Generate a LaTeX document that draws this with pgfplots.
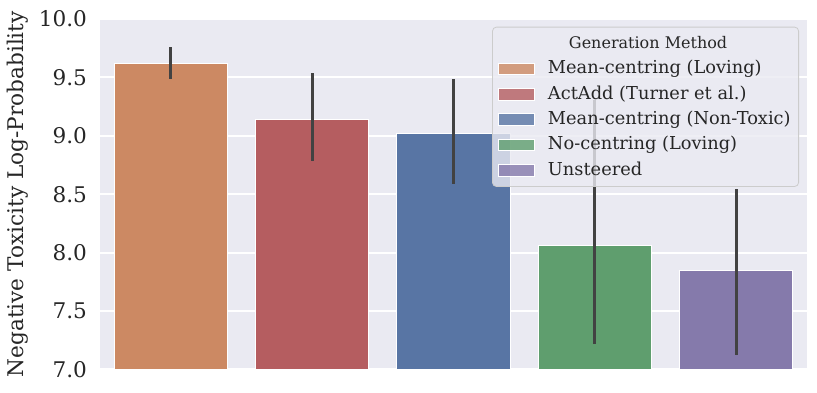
\documentclass[border=0pt]{standalone}
\usepackage{fontspec}
\setmainfont{DejaVu Serif}
\usepackage{pgfplots}
\pgfplotsset{compat=1.18}
\usetikzlibrary{calc}
\definecolor{seabg}{HTML}{EAEAF2}
\definecolor{txt}{HTML}{262626}
\definecolor{errc}{HTML}{424242}
\definecolor{legframe}{HTML}{CCCCCC}
\definecolor{cOrange}{HTML}{CC8963}
\definecolor{cRed}{HTML}{B55D60}
\definecolor{cBlue}{HTML}{5875A4}
\definecolor{cGreen}{HTML}{5F9E6E}
\definecolor{cPurple}{HTML}{857AAB}

\pgfplotsset{
  sbar/.style={ybar, fill=#1, draw=white, line width=0.5pt, bar width=0.8, bar shift=0pt,
    error bars/.cd, y dir=both, y explicit, error mark=none,
    error bar style={color=errc, line width=1.5pt}},
}

\begin{document}
\begin{tikzpicture}
\begin{axis}[
  name=ax,
  scale only axis,
  width=353.5pt, height=175.25pt,
  xmin=-0.5, xmax=4.5, ymin=7, ymax=10,
  axis background/.style={fill=seabg},
  axis line style={draw=none},
  major tick length=0pt,
  xtick=\empty,
  ytick={7,7.5,8,8.5,9,9.5,10},
  ymajorgrids, grid style={white, line width=1pt},
  yticklabel style={/pgf/number format/fixed, /pgf/number format/fixed zerofill,
    /pgf/number format/precision=1, /pgf/number format/assume math mode=true,
    font=\fontsize{10.8}{12}\selectfont, text=txt, xshift=-3pt},
  ylabel={Negative Toxicity Log-Probability},
  ylabel style={at={(rel axis cs:-0.116,0.5)}, anchor=center,
    font=\fontsize{10.8}{12}\selectfont, text=txt},
  legend cell align=left,
  legend image code/.code={\draw[#1, sharp corners, draw=white, line width=0.4pt] (0pt,-2.9pt) rectangle (17.8pt,2.9pt);
    \path (23.3pt,0pt);},
  legend style={at={(0.9887,0.978)}, anchor=north east, fill=seabg, fill opacity=0.8,
    text opacity=1, draw=legframe, rounded corners=2pt, text=txt,
    font=\fontsize{8.9}{11}\selectfont, row sep=1.7pt, inner xsep=3pt, inner ysep=2.6pt,
    nodes={text height=7pt, text depth=2pt, inner sep=1pt}},
]
\addlegendimage{empty legend}
\addlegendentry{\hspace{10.5pt}\fontsize{8}{9}\selectfont Generation Method}

\addplot[sbar=cOrange] coordinates {(0,9.621) += (0,0.137) -= (0,0.134)};
\addlegendentry{Mean-centring (Loving)}
\addplot[sbar=cRed] coordinates {(1,9.143) += (0,0.393) -= (0,0.359)};
\addlegendentry{ActAdd (Turner et al.)}
\addplot[sbar=cBlue] coordinates {(2,9.023) += (0,0.462) -= (0,0.433)};
\addlegendentry{Mean-centring (Non-Toxic)}
\addplot[sbar=cGreen] coordinates {(3,8.060) += (0,1.248) -= (0,0.838)};
\addlegendentry{No-centring (Loving)}
\addplot[sbar=cPurple] coordinates {(4,7.846) += (0,0.701) -= (0,0.724)};
\addlegendentry{Unsteered}
\end{axis}
\pgfresetboundingbox
\path ($(ax.south west)+(-50pt,-11.75pt)$) rectangle ($(ax.north east)+(5pt,9.5pt)$);
\end{tikzpicture}
\end{document}
